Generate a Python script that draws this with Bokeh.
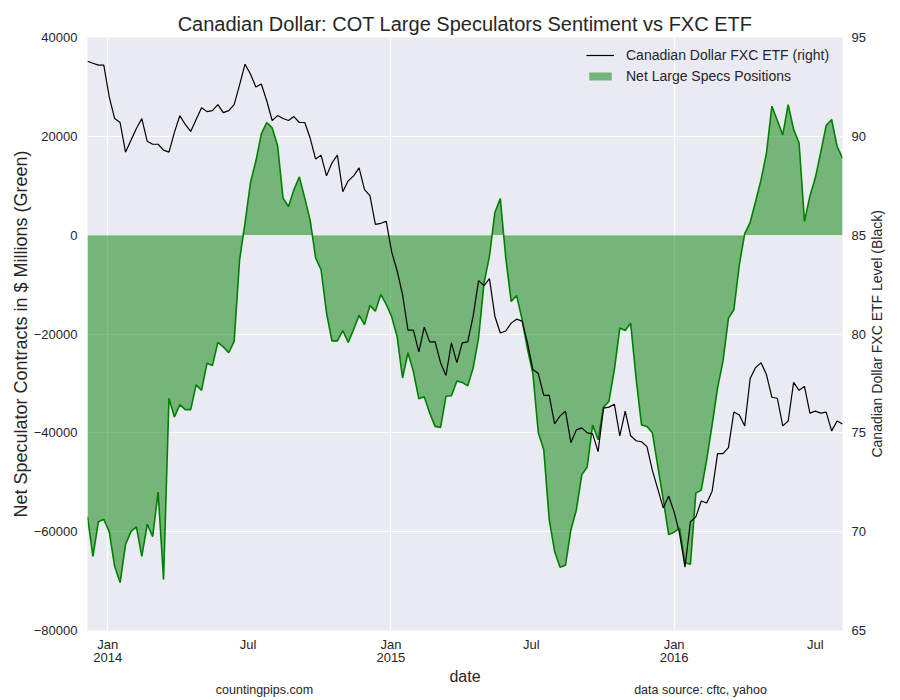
import math
import pandas as pd
from bokeh.plotting import figure
from bokeh.models import (Range1d, LinearAxis, FixedTicker, Legend, LegendItem,
                          ColumnDataSource)
from bokeh.embed import file_html
from bokeh.resources import INLINE

# ---------------- data (weekly) ----------------
dates = pd.date_range("2013-12-06", periods=140, freq="7D")

net_positions = [
    -57000, -65000, -58000, -57500, -60000, -67000, -70300, -62600, -60000, -59000,
    -65000, -58500, -61000, -52000, -69700, -33000, -36800, -34300, -35300, -35300,
    -30300, -31400, -25900, -26400, -21700, -22600, -23800, -21500, -5000, 2500,
    10600, 15000, 20500, 22800, 21700, 18100, 7500, 5800, 9200, 11800,
    7500, 3000, -4600, -7000, -15700, -21400, -21400, -19300, -21700, -19100,
    -16200, -18100, -14200, -15400, -12000, -14000, -16500, -20500, -28900, -23800,
    -27600, -33100, -32700, -36000, -38700, -38900, -32600, -32500, -29500, -29800,
    -30500, -26900, -20800, -9700, -4300, 4600, 7400, -4500, -13400, -12200,
    -17000, -23000, -28000, -40000, -43400, -57500, -64000, -67200, -66800, -59600,
    -55600, -48500, -46900, -38400, -41400, -34800, -33600, -27200, -18800, -19300,
    -17800, -29000, -38400, -38700, -40000, -46800, -53500, -60600, -60100, -59300,
    -66300, -66600, -52200, -51600, -45400, -38400, -30900, -25500, -16800, -15100,
    -6000, 300, 2600, 6800, 11200, 16600, 26100, 23200, 20300, 26400,
    21400, 18700, 2800, 7900, 11600, 16800, 22200, 23400, 18000, 15600,
]

fxc_etf = [
    93.8, 93.7, 93.6, 93.6, 92.0, 90.9, 90.7, 89.2, 89.8, 90.4,
    90.9, 89.75, 89.6, 89.6, 89.3, 89.2, 90.2, 91.05, 90.6, 90.25,
    90.85, 91.45, 91.25, 91.3, 91.6, 91.2, 91.3, 91.6, 92.6, 93.65,
    93.15, 92.5, 92.65, 91.8, 90.8, 91.05, 90.9, 90.8, 91.0, 90.7,
    90.7, 89.9, 88.85, 89.05, 88.0, 88.65, 89.05, 87.2, 87.75, 88.0,
    88.4, 87.3, 87.0, 85.55, 85.6, 85.7, 84.15, 83.2, 82.0, 80.2,
    80.2, 79.1, 80.35, 79.6, 79.6, 78.55, 77.9, 79.55, 78.55, 79.55,
    79.6, 80.9, 82.7, 82.45, 82.8, 80.9, 80.05, 80.15, 80.55, 80.75,
    80.65, 79.55, 78.2, 78.0, 76.9, 76.9, 75.45, 75.85, 76.1, 74.5,
    75.15, 75.25, 75.0, 74.95, 74.05, 76.25, 76.3, 76.45, 74.85, 76.1,
    74.85, 74.6, 74.55, 74.3, 73.1, 72.15, 71.2, 71.8, 71.0, 69.9,
    68.2, 70.5, 70.75, 71.55, 71.45, 72.05, 73.95, 73.95, 74.25, 76.05,
    75.9, 75.35, 77.75, 78.3, 78.55, 77.95, 76.8, 76.75, 75.35, 75.6,
    77.55, 77.15, 77.35, 76.0, 76.1, 76.0, 76.05, 75.1, 75.6, 75.45,
]

x_tick_dates = ["2014-01-01", "2014-07-01", "2015-01-01", "2015-07-01", "2016-01-01", "2016-07-01"]
x_tick_labels = ["Jan\n2014", "Jul", "Jan\n2015", "Jul", "Jan\n2016", "Jul"]
left_ticks = [-80000, -60000, -40000, -20000, 0, 20000, 40000]
right_ticks = [65, 70, 75, 80, 85, 90, 95]
footnotes = ["countingpips.com", "data source: cftc, yahoo"]
right_title = "Canadian Dollar FXC ETF Level (Black)"

# ---------------- figure ----------------
FONT = "Liberation Sans"
TXT = "#262626"

def to_ms(d):
    return (pd.Timestamp(d) - pd.Timestamp("1970-01-01")) / pd.Timedelta(milliseconds=1)

src = ColumnDataSource(dict(date=list(dates.to_pydatetime()), net=net_positions, etf=fxc_etf))

x0, x1 = to_ms(dates[0]), to_ms(dates[-1])
p = figure(width=900, height=700, x_axis_type="datetime", output_backend="svg",
           toolbar_location=None,
           x_range=Range1d(x0, x1),
           y_range=Range1d(-80000, 40000),
           min_border_left=87, min_border_right=58, min_border_top=37, min_border_bottom=70)
p.extra_y_ranges = {"etf": Range1d(65, 95)}
p.background_fill_color = "#EAEAF2"
p.border_fill_color = "white"
p.outline_line_color = None

p.title.text = "Canadian Dollar: COT Large Speculators Sentiment vs FXC ETF"
p.title.align = "center"
p.title.text_font = FONT
p.title.text_font_size = "20px"
p.title.text_font_style = "normal"
p.title.text_color = TXT
p.title.standoff = 6

area = p.varea(x="date", y1=0, y2="net", source=src, fill_color="green", fill_alpha=0.5)
p.line(x="date", y="net", source=src, line_color="green", line_width=1.6)
etf_line = p.line(x="date", y="etf", source=src, line_color="black", line_width=1.2,
                  y_range_name="etf")

# axes
tick_ms = [to_ms(d) for d in x_tick_dates]
xaxis = p.xaxis[0]
xaxis.ticker = FixedTicker(ticks=tick_ms)
xaxis.major_label_overrides = {t: l for t, l in zip(tick_ms, x_tick_labels)}
xaxis.axis_label = "date"
xaxis.axis_label_standoff = 0
xaxis.axis_label_text_font_size = "16px"
xaxis.major_label_text_line_height = 0.88

yaxis = p.yaxis[0]
yaxis.ticker = FixedTicker(ticks=left_ticks)
yaxis.major_label_overrides = {v: (str(v).replace("-", "\u2212")) for v in left_ticks}
yaxis.axis_label = "Net Speculator Contracts in $ Millions (Green)"
yaxis.axis_label_standoff = 0
yaxis.axis_label_text_font_size = "18px"

right_axis = LinearAxis(y_range_name="etf", ticker=FixedTicker(ticks=right_ticks))
p.add_layout(right_axis, "right")

# right-hand axis title, drawn as a rotated label of a tick-less axis (reads bottom to top)
title_pos = 73.75
title_axis = LinearAxis(y_range_name="etf", ticker=FixedTicker(ticks=[title_pos]))
title_axis.major_label_overrides = {title_pos: right_title}
title_axis.major_label_orientation = math.pi / 2
title_axis.major_label_text_font_size = "14px"
p.add_layout(title_axis, "right")

# footnotes as a tick-less axis placed under the date axis
fpos = [x0 + (264 - 87) / 755 * (x1 - x0), x0 + (700 - 87) / 755 * (x1 - x0)]
foot_axis = LinearAxis(ticker=FixedTicker(ticks=fpos))
foot_axis.major_label_overrides = {t: s for t, s in zip(fpos, footnotes)}
foot_axis.major_label_text_font_size = "12.5px"
p.add_layout(foot_axis, "below")

for ax, standoff in ((xaxis, 6), (yaxis, 10), (right_axis, 9), (foot_axis, -5), (title_axis, 9)):
    ax.axis_line_color = None
    ax.major_tick_line_color = None
    ax.minor_tick_line_color = None
    ax.major_tick_out = 0
    ax.major_tick_in = 0
    ax.major_label_standoff = standoff
    ax.major_label_text_font = FONT
    ax.major_label_text_color = TXT
    ax.axis_label_text_font = FONT
    ax.axis_label_text_font_style = "normal"
    ax.axis_label_text_color = TXT
for ax in (xaxis, yaxis, right_axis):
    ax.major_label_text_font_size = "13px"

p.xgrid.ticker = FixedTicker(ticks=[tick_ms[0], tick_ms[2], tick_ms[4]])
p.xgrid.grid_line_color = "white"
p.xgrid.grid_line_width = 1.2
p.ygrid.grid_line_color = "white"
p.ygrid.grid_line_width = 1.2

# legend
legend = Legend(items=[
    LegendItem(label="Canadian Dollar FXC ETF (right)", renderers=[etf_line]),
    LegendItem(label="Net Large Specs Positions", renderers=[area]),
], location=(499, 544))
legend.border_line_color = None
legend.background_fill_alpha = 0
legend.label_text_font = FONT
legend.label_text_font_size = "14px"
legend.label_text_color = TXT
legend.glyph_width = 28
legend.glyph_height = 10
legend.label_height = 20
legend.spacing = 1
legend.padding = 5
legend.margin = 0
legend.label_standoff = 12
p.add_layout(legend, "center")

open("out.html", "w").write(file_html(p, INLINE))
